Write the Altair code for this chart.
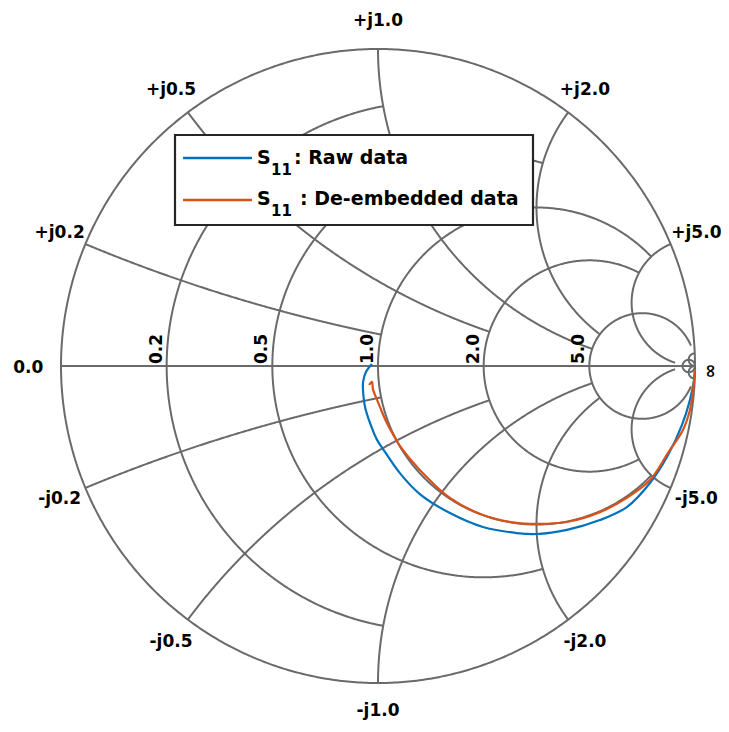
import altair as alt
import numpy as np
import pandas as pd

# ---- Smith chart grid values (MATLAB-style: value row and end-point row) ----
R_VALUES = [0.2, 0.5, 1.0, 2.0, 5.0, 50.0]
R_LIMITS = [1.0, 2.0, 5.0, 5.0, 30.0, 1e6]
X_VALUES = [0.2, 0.5, 1.0, 2.0, 5.0, 50.0]
X_LIMITS = [1.0, 2.0, 5.0, 5.0, 30.0, 1e6]

R_LABELS = ["0.2", "0.5", "1.0", "2.0", "5.0"]
X_LABELS_POS = ["+j0.2", "+j0.5", "+j1.0", "+j2.0", "+j5.0"]
X_LABELS_NEG = ["-j0.2", "-j0.5", "-j1.0", "-j2.0", "-j5.0"]

raw_re = [-0.019, -0.038, -0.047, -0.047, -0.041, -0.025, -0.003, 0.016, 0.069, 0.132,
          0.227, 0.331, 0.438, 0.502, 0.596, 0.700, 0.785, 0.858, 0.915, 0.959,
          0.984, 0.997, 1.000]
raw_im = [0.006, -0.019, -0.050, -0.082, -0.129, -0.180, -0.233, -0.262, -0.338, -0.404,
          -0.464, -0.508, -0.527, -0.530, -0.517, -0.486, -0.445, -0.369, -0.281, -0.186,
          -0.107, -0.044, -0.006]

deemb_re = [-0.028, -0.019, -0.016, -0.003, 0.006, 0.028, 0.054, 0.069, 0.132, 0.227,
            0.331, 0.438, 0.502, 0.596, 0.700, 0.785, 0.858, 0.915, 0.962, 0.984,
            0.994, 1.000]
deemb_im = [-0.060, -0.050, -0.073, -0.107, -0.129, -0.180, -0.227, -0.252, -0.328, -0.416,
            -0.470, -0.495, -0.498, -0.492, -0.461, -0.416, -0.360, -0.274, -0.202, -0.139,
            -0.076, -0.009]

GRID_COLOR = "#6a6a6a"
BLUE = "#0072BD"
RED = "#D95319"
FONT = "DejaVu Sans"


def gamma(z):
    return (z - 1) / (z + 1)


rows = []


def add_line(name, pts):
    for i, p in enumerate(pts):
        rows.append({"id": name, "i": i, "gx": float(np.real(p)), "gy": float(np.imag(p))})


# outer circle (r = 0) and real axis (x = 0)
th = np.linspace(0, 2 * np.pi, 721)
add_line("r0", np.exp(1j * th))
add_line("x0", np.array([-1 + 0j, 1 + 0j]))

# constant resistance circles, clipped at |x| = limit
for r, xm in zip(R_VALUES, R_LIMITS):
    c = r / (1 + r)
    rho = 1 / (1 + r)
    t1 = np.angle(gamma(r + 1j * xm) - c)
    t = np.linspace(t1, 2 * np.pi - t1, 500)
    add_line(f"r{r}", c + rho * np.exp(1j * t))

# constant reactance arcs, clipped at r = limit
for x, rm in zip(X_VALUES, X_LIMITS):
    c = 1 + 1j / x
    rho = 1 / x
    p0 = np.angle(gamma(1j * x) - c)
    p1 = np.angle(gamma(rm + 1j * x) - c)
    if p1 < p0:
        p1 += 2 * np.pi
    t = np.linspace(p0, p1, 400)
    pts = c + rho * np.exp(1j * t)
    add_line(f"x+{x}", pts)
    add_line(f"x-{x}", np.conj(pts))

grid_df = pd.DataFrame(rows)

XS = alt.Scale(domain=[-1, 1], nice=False, zero=False)
YS = alt.Scale(domain=[-1, 1], nice=False, zero=False)

grid = alt.Chart(grid_df).mark_line(color=GRID_COLOR, strokeWidth=2).encode(
    x=alt.X("gx:Q", scale=XS, axis=None),
    y=alt.Y("gy:Q", scale=YS, axis=None),
    detail="id:N",
    order="i:Q",
)

raw_df = pd.DataFrame({"gx": raw_re, "gy": raw_im, "i": range(len(raw_re))})
de_df = pd.DataFrame({"gx": deemb_re, "gy": deemb_im, "i": range(len(deemb_re))})

raw_line = alt.Chart(raw_df).mark_line(color=BLUE, strokeWidth=2.2, interpolate="catmull-rom").encode(
    x=alt.X("gx:Q", scale=XS, axis=None), y=alt.Y("gy:Q", scale=YS, axis=None), order="i:Q")
de_line = alt.Chart(de_df).mark_line(color=RED, strokeWidth=2.2, interpolate="catmull-rom").encode(
    x=alt.X("gx:Q", scale=XS, axis=None), y=alt.Y("gy:Q", scale=YS, axis=None), order="i:Q")

# reactance labels placed radially outside the outer circle
K = 1.088
lab_rows = []
for x, lp, ln in zip(X_VALUES, X_LABELS_POS, X_LABELS_NEG):
    g = gamma(1j * x)
    lab_rows.append({"label": lp, "gx": K * g.real, "gy": K * g.imag})
    lab_rows.append({"label": ln, "gx": K * g.real, "gy": -K * g.imag})
lab_rows.append({"label": "0.0", "gx": -K - 0.015, "gy": -0.005})
xlab_df = pd.DataFrame(lab_rows)

xlabels = alt.Chart(xlab_df).mark_text(
    font=FONT, fontSize=17, fontWeight="bold", color="black", align="center", baseline="middle"
).encode(x=alt.X("gx:Q", scale=XS, axis=None), y=alt.Y("gy:Q", scale=YS, axis=None), text="label:N")

# resistance labels, rotated, just left of each circle's leftmost point
rlab_df = pd.DataFrame({
    "label": R_LABELS,
    "gx": [(r - 1) / (r + 1) - 1.0 / 317 for r in R_VALUES[:len(R_LABELS)]],
    "gy": [2.0 / 317] * len(R_LABELS),
})
rlabels = alt.Chart(rlab_df).mark_text(
    font=FONT, fontSize=17, fontWeight="bold", color="black", align="left", baseline="bottom", angle=270
).encode(x=alt.X("gx:Q", scale=XS, axis=None), y=alt.Y("gy:Q", scale=YS, axis=None), text="label:N")

inf_df = pd.DataFrame({"label": ["∞"], "gx": [1.052], "gy": [-0.016]})
inflabel = alt.Chart(inf_df).mark_text(
    font=FONT, fontSize=18, fontWeight="bold", color="black", align="center", baseline="middle", angle=270
).encode(x=alt.X("gx:Q", scale=XS, axis=None), y=alt.Y("gy:Q", scale=YS, axis=None), text="label:N")

# ---- legend box (drawn manually for subscripts) ----
one = pd.DataFrame({"k": [0]})
leg_box = alt.Chart(one).mark_rect(fill="white", stroke="#262626", strokeWidth=2.2).encode(
    x=alt.value(114), x2=alt.value(472), y=alt.value(86), y2=alt.value(176))
leg_blue = alt.Chart(one).mark_rule(color=BLUE, strokeWidth=2.5).encode(
    x=alt.value(122), x2=alt.value(191), y=alt.value(109))
leg_red = alt.Chart(one).mark_rule(color=RED, strokeWidth=2.5).encode(
    x=alt.value(122), x2=alt.value(191), y=alt.value(151))


def txt(s, x, y, size):
    return alt.Chart(one).mark_text(
        font=FONT, fontSize=size, fontWeight="bold", color="black", align="left", baseline="alphabetic"
    ).encode(x=alt.value(x), y=alt.value(y), text=alt.value(s))


leg_texts = [
    txt("S", 196, 115, 19), txt("11", 210, 126, 15), txt(": Raw data", 233, 115, 19),
    txt("S", 196, 156, 19), txt("11", 210, 167, 15), txt(": De-embedded data", 239, 156, 19),
]

chart = alt.layer(
    grid, raw_line, de_line, xlabels, rlabels, inflabel, leg_box, leg_blue, leg_red, *leg_texts
).properties(
    width=634, height=634,
    autosize=alt.AutoSizeParams(type="none"),
    padding={"left": 53, "top": 41, "right": 26, "bottom": 38},
).configure_view(stroke=None)

chart.save("out.html", embed_options={"renderer": "svg", "actions": False})
